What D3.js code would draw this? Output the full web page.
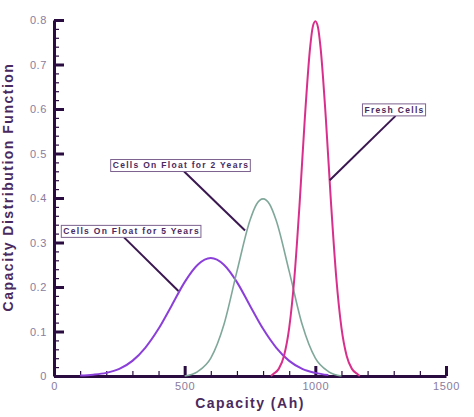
<!DOCTYPE html>
<html>
<head>
<meta charset="utf-8">
<script src="https://cdn.jsdelivr.net/npm/d3@7"></script>
<style>
body { margin: 0; background: #fff; }
svg { display: block; }
</style>
</head>
<body>
<div id="chart"></div>
<script>
// values (capacity in Ah, distribution value)
var capacity5y = [100, 150, 200, 250, 300, 350, 400, 450, 500, 550, 600, 650, 700, 750, 800, 850, 900, 950, 1000, 1050];
var density5y  = [0.001, 0.003, 0.007, 0.016, 0.034, 0.064, 0.106, 0.158, 0.211, 0.250, 0.265, 0.250, 0.211, 0.158, 0.106, 0.064, 0.034, 0.016, 0.007, 0.002];

var capacity2y = [500, 550, 600, 650, 700, 750, 775, 800, 825, 850, 900, 950, 1000, 1050, 1100];
var density2y  = [0.000, 0.010, 0.040, 0.115, 0.235, 0.350, 0.386, 0.398, 0.386, 0.350, 0.235, 0.115, 0.040, 0.010, 0.000];

var capacityFresh = [830, 840, 860, 880, 900, 920, 940, 960, 980, 990, 1000, 1010, 1020, 1040, 1060, 1080, 1100, 1120, 1140, 1160, 1170];
var densityFresh  = [0.000, 0.005, 0.016, 0.045, 0.108, 0.222, 0.389, 0.581, 0.738, 0.784, 0.797, 0.784, 0.738, 0.581, 0.389, 0.222, 0.108, 0.045, 0.016, 0.005, 0.000];

var seriesNames = ["Cells On Float for 5 Years", "Cells On Float for 2 Years", "Fresh Cells"];

// label box centre, where its leader leaves the box, and the point on the curve
var labelAt    = [[297, 0.325], [486, 0.473], [1303, 0.598]];
var leaderFrom = [268, 498, 1307];
var leaderTo   = [[476, 0.191], [731, 0.327], [1055, 0.440]];

var xTicks = [0, 500, 1000, 1500];
var yTicks = [0, 0.1, 0.2, 0.3, 0.4, 0.5, 0.6, 0.7, 0.8];

var width = 474, height = 417;
var fontFamily = "'Liberation Sans', Arial, sans-serif";
var axisColor = "#2b0c40";
var labelColor = "#8a7c9d";
var titleColor = "#4a2a5e";
var colors = ["#8b3fd9", "#80a89a", "#d92f8c"];
var lineWidths = [2, 1.6, 2];

var svg = d3.select("#chart").append("svg")
    .attr("width", width)
    .attr("height", height)
    .style("font-family", fontFamily);

var x = d3.scaleLinear().domain([0, 1500]).range([54, 446]);
var y = d3.scaleLinear().domain([0, 0.8]).range([376, 20]);

// minor ticks first so the major ones sit on top
svg.append("g")
    .attr("transform", "translate(0," + y(0) + ")")
    .call(d3.axisBottom(x).tickValues(d3.range(0, 1501, 100)).tickSizeInner(-5).tickSizeOuter(0).tickFormat(""))
    .call(function (g) { g.select(".domain").remove(); })
    .selectAll("line").attr("stroke", axisColor).attr("stroke-width", 1.2);

svg.append("g")
    .attr("transform", "translate(" + x(0) + ",0)")
    .call(d3.axisLeft(y).tickValues(d3.range(0, 41).map(function (i) { return i * 0.02; })).tickSizeInner(-5).tickSizeOuter(0).tickFormat(""))
    .call(function (g) { g.select(".domain").remove(); })
    .selectAll("line").attr("stroke", axisColor).attr("stroke-width", 1.2);

var xAxis = svg.append("g")
    .attr("transform", "translate(0," + y(0) + ")")
    .call(d3.axisBottom(x).tickValues(xTicks).tickSizeInner(-10).tickSizeOuter(0).tickPadding(6)
        .tickFormat(d3.format("d")));

var yAxis = svg.append("g")
    .attr("transform", "translate(" + x(0) + ",0)")
    .call(d3.axisLeft(y).tickValues(yTicks).tickSizeInner(-10).tickSizeOuter(0).tickPadding(7)
        .tickFormat(function (d) { return d === 0 ? "0" : d3.format(".1f")(d); }));

[xAxis, yAxis].forEach(function (g) {
    g.attr("font-family", fontFamily);
    g.select(".domain").attr("stroke", axisColor).attr("stroke-width", 3);
    g.selectAll(".tick line").attr("stroke", axisColor).attr("stroke-width", 3);
    g.selectAll(".tick text")
        .attr("fill", labelColor)
        .style("font-size", "11px")
        .style("letter-spacing", "0.6px");
});

// curves
var line = d3.line()
    .x(function (d) { return x(d[0]); })
    .y(function (d) { return y(d[1]); })
    .curve(d3.curveMonotoneX);

var series = [
    d3.zip(capacity5y, density5y),
    d3.zip(capacity2y, density2y),
    d3.zip(capacityFresh, densityFresh)
];

series.forEach(function (pts, i) {
    svg.append("path")
        .datum(pts)
        .attr("fill", "none")
        .attr("stroke", colors[i])
        .attr("stroke-width", lineWidths[i])
        .attr("stroke-linejoin", "round")
        .attr("d", line);
});

// labels with leader lines
seriesNames.forEach(function (name, i) {
    var cx = x(labelAt[i][0]), cy = y(labelAt[i][1]);
    var boxH = 12;
    var g = svg.append("g");
    g.append("line")
        .attr("x1", x(leaderFrom[i]))
        .attr("y1", cy + boxH / 2)
        .attr("x2", x(leaderTo[i][0]))
        .attr("y2", y(leaderTo[i][1]))
        .attr("stroke", "#3a1750")
        .attr("stroke-width", 2);
    var box = g.append("rect");
    var t = g.append("text")
        .attr("x", cx)
        .attr("y", cy)
        .attr("dy", "0.35em")
        .attr("text-anchor", "middle")
        .attr("fill", titleColor)
        .style("font-size", "8.5px")
        .style("font-weight", "bold")
        .style("letter-spacing", "1.3px")
        .text(name);
    var bb = t.node().getBBox();
    box.attr("x", bb.x - 2)
        .attr("y", cy - boxH / 2)
        .attr("width", bb.width + 3)
        .attr("height", boxH)
        .attr("fill", "#fff")
        .attr("stroke", "#7d6290")
        .attr("stroke-width", 1);
});

// axis titles
svg.append("text")
    .attr("x", (x(0) + x(1500)) / 2)
    .attr("y", 408)
    .attr("text-anchor", "middle")
    .attr("fill", titleColor)
    .style("font-size", "14px")
    .style("font-weight", "bold")
    .style("letter-spacing", "1.5px")
    .text("Capacity (Ah)");

svg.append("text")
    .attr("transform", "translate(13,187) rotate(-90)")
    .attr("text-anchor", "middle")
    .attr("fill", titleColor)
    .style("font-size", "14px")
    .style("font-weight", "bold")
    .style("letter-spacing", "1.5px")
    .text("Capacity Distribution Function");
</script>
</body>
</html>
